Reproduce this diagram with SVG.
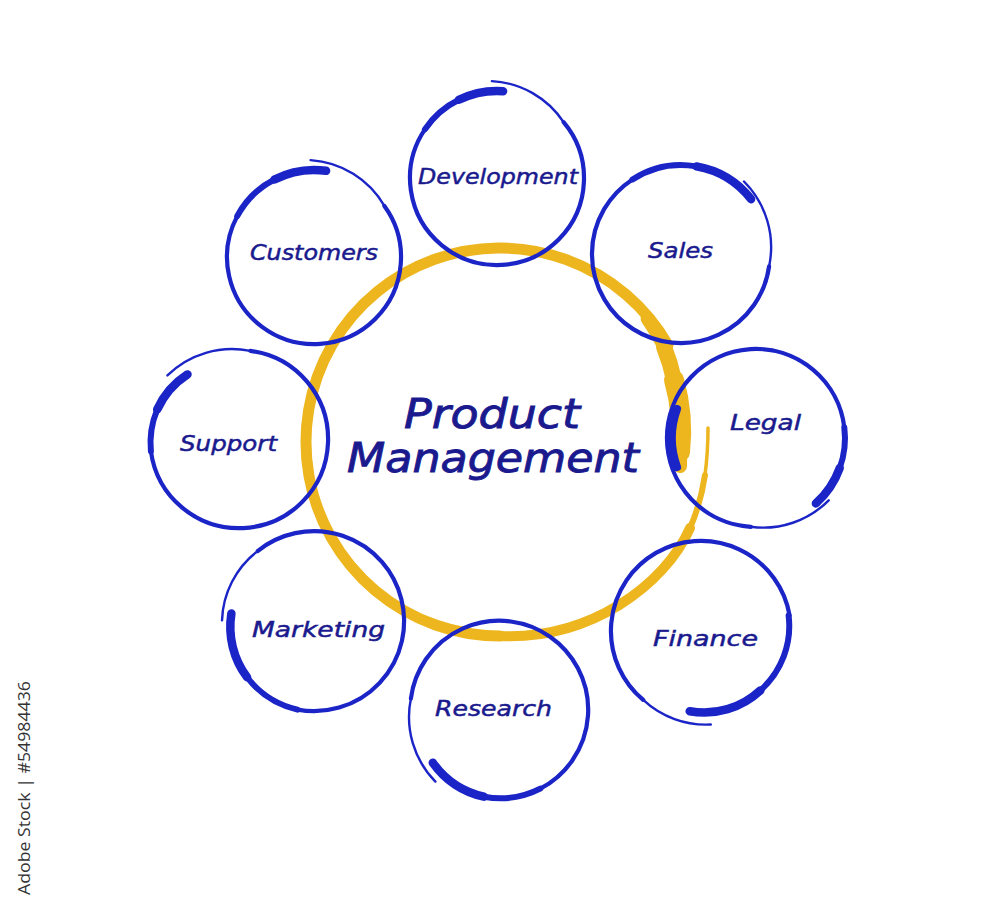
<svg xmlns="http://www.w3.org/2000/svg" width="1000" height="912" viewBox="0 0 1000 912">
<style>
.y{fill:none;stroke:#EDB61E;stroke-linecap:round}
.b{fill:none;stroke:#1B24C6;stroke-linecap:round}
.m{stroke-width:4.2}
.t1{stroke-width:8.5}
.t2{stroke-width:6}
.tl{stroke-width:2.4}
.lbl{font-family:"DejaVu Sans","Noto Sans",sans-serif;font-style:italic;font-size:22px;fill:#1A1A8E;stroke:#1A1A8E;stroke-width:0.5}
.big{font-family:"DejaVu Sans","Noto Sans",sans-serif;font-style:italic;font-size:40px;fill:#1A1A8E;stroke:#1A1A8E;stroke-width:0.9}
.wm{font-family:"Open Sans","Noto Sans",sans-serif;font-size:17px;fill:#333}
</style>
<rect width="1000" height="912" fill="#fff"/>
<g id="center">
<path class="y" stroke-width="11" d="M668 345 A194 194 0 1 0 500 636"/>
<path class="y" stroke-width="13" d="M647.1 318.6 A192 192 0 0 1 664 347"/>
<path class="y" stroke-width="16" d="M664 347 A188 188 0 0 1 674 380"/>
<path class="y" stroke-width="20" d="M674 380 A185 185 0 0 1 680 452"/>
<path class="y" stroke-width="14" d="M680 452 A184 184 0 0 1 680 466"/>
<path class="y" stroke-width="10" d="M500 636 C590 640 665 585 690 528"/>
<path class="y" stroke-width="6" d="M690 528 C697 512 702 495 705 475"/>
<path class="y" stroke-width="3.5" d="M705 475 C707 460 708 445 708 428"/>
<text class="big" x="404" y="428" textLength="176" lengthAdjust="spacingAndGlyphs">Product</text>
<text class="big" x="347" y="472" textLength="292" lengthAdjust="spacingAndGlyphs">Management</text>
</g>
<g id="development">
<path class="b m" d="M424.9 129.4 A87 87 0 1 0 563.6 122.1"/>
<path class="b t1" d="M503.1 91.2 A87 87 0 0 0 458.9 99.8"/>
<path class="b t2" d="M458.9 99.8 A87 87 0 0 0 424.9 129.4"/>
<path class="b tl" d="M563.6 122.1 A92 92 0 0 0 491.9 81.1"/>
<text class="lbl" x="418" y="184" textLength="160" lengthAdjust="spacingAndGlyphs">Development</text>
</g>
<g id="customers">
<path class="b m" d="M237.2 216.2 A87 87 0 1 0 384.4 205.9"/>
<path class="b t1" d="M326.1 170.8 A87 87 0 0 0 274.5 179.5"/>
<path class="b t2" d="M274.5 179.5 A87 87 0 0 0 237.2 216.2"/>
<path class="b tl" d="M384.4 205.9 A92 92 0 0 0 310.6 160.1"/>
<text class="lbl" x="250" y="260" textLength="128" lengthAdjust="spacingAndGlyphs">Customers</text>
</g>
<g id="sales">
<path class="b m" d="M632.5 179.4 A89 89 0 1 0 769.1 266.4"/>
<path class="b t1" d="M751.1 199.2 A89 89 0 0 0 696.5 166.4"/>
<path class="b t2" d="M696.5 166.4 A89 89 0 0 0 632.5 179.4"/>
<path class="b tl" d="M769.1 266.4 A93 93 0 0 0 744 181.5"/>
<text class="lbl" x="648" y="258" textLength="65" lengthAdjust="spacingAndGlyphs">Sales</text>
</g>
<g id="legal">
<path class="b m" d="M844.3 427.3 A89 89 0 1 0 750.8 526.8"/>
<path class="b t1" d="M815.9 503.4 A88 88 0 0 0 839.7 468.1"/>
<path class="b t2" d="M839.7 468.1 A88 88 0 0 0 844.3 427.3"/>
<path class="b" stroke-width="8" d="M677.1 467.1 A85 85 0 0 1 677.1 408.9"/>
<path class="b tl" d="M750.8 526.8 A92 92 0 0 0 828.7 500.3"/>
<text class="lbl" x="730" y="430" textLength="71" lengthAdjust="spacingAndGlyphs">Legal</text>
</g>
<g id="finance">
<path class="b m" d="M789.6 615.4 A90 90 0 1 0 643.2 699.9"/>
<path class="b t1" d="M689.7 711.2 A82 82 0 0 0 760.4 690.4"/>
<path class="b t2" d="M760.4 690.4 A86 86 0 0 0 788.6 615.5"/>
<path class="b tl" d="M643.2 699.9 A92 92 0 0 0 710.8 724.5"/>
<text class="lbl" x="653" y="646" textLength="105" lengthAdjust="spacingAndGlyphs">Finance</text>
</g>
<g id="research">
<path class="b m" d="M540.3 788.7 A89 89 0 1 0 410.9 698.6"/>
<path class="b t1" d="M432.8 762.7 A86 86 0 0 0 483.9 796.7"/>
<path class="b t2" d="M483.9 796.7 A88 88 0 0 0 540.3 788.7"/>
<path class="b tl" d="M410.9 698.6 A92 92 0 0 0 435.4 781.6"/>
<text class="lbl" x="435" y="716" textLength="117" lengthAdjust="spacingAndGlyphs">Research</text>
</g>
<g id="marketing">
<path class="b m" d="M297.5 709.6 A90 90 0 1 0 257.6 551.1"/>
<path class="b t1" d="M231.4 613.4 A84 84 0 0 0 247.1 677.3"/>
<path class="b t2" d="M247.1 677.3 A88 88 0 0 0 297.5 709.6"/>
<path class="b tl" d="M257.6 551.1 A91 91 0 0 0 222 620.4"/>
<text class="lbl" x="252" y="637" textLength="133" lengthAdjust="spacingAndGlyphs">Marketing</text>
</g>
<g id="support">
<path class="b m" d="M150.9 451.2 A89 89 0 1 0 250.4 350.9"/>
<path class="b t1" d="M187.5 374.4 A82 82 0 0 0 157.2 409.6"/>
<path class="b t2" d="M157.2 409.6 A86 86 0 0 0 150.9 451.2"/>
<path class="b tl" d="M250.4 350.9 A92 92 0 0 0 167.4 375.4"/>
<text class="lbl" x="180" y="451" textLength="97" lengthAdjust="spacingAndGlyphs">Support</text>
</g>
<g id="connectors"></g>
<text class="wm" transform="translate(30 895) rotate(-90)" textLength="214" lengthAdjust="spacingAndGlyphs">Adobe Stock | #54984436</text>
</svg>
